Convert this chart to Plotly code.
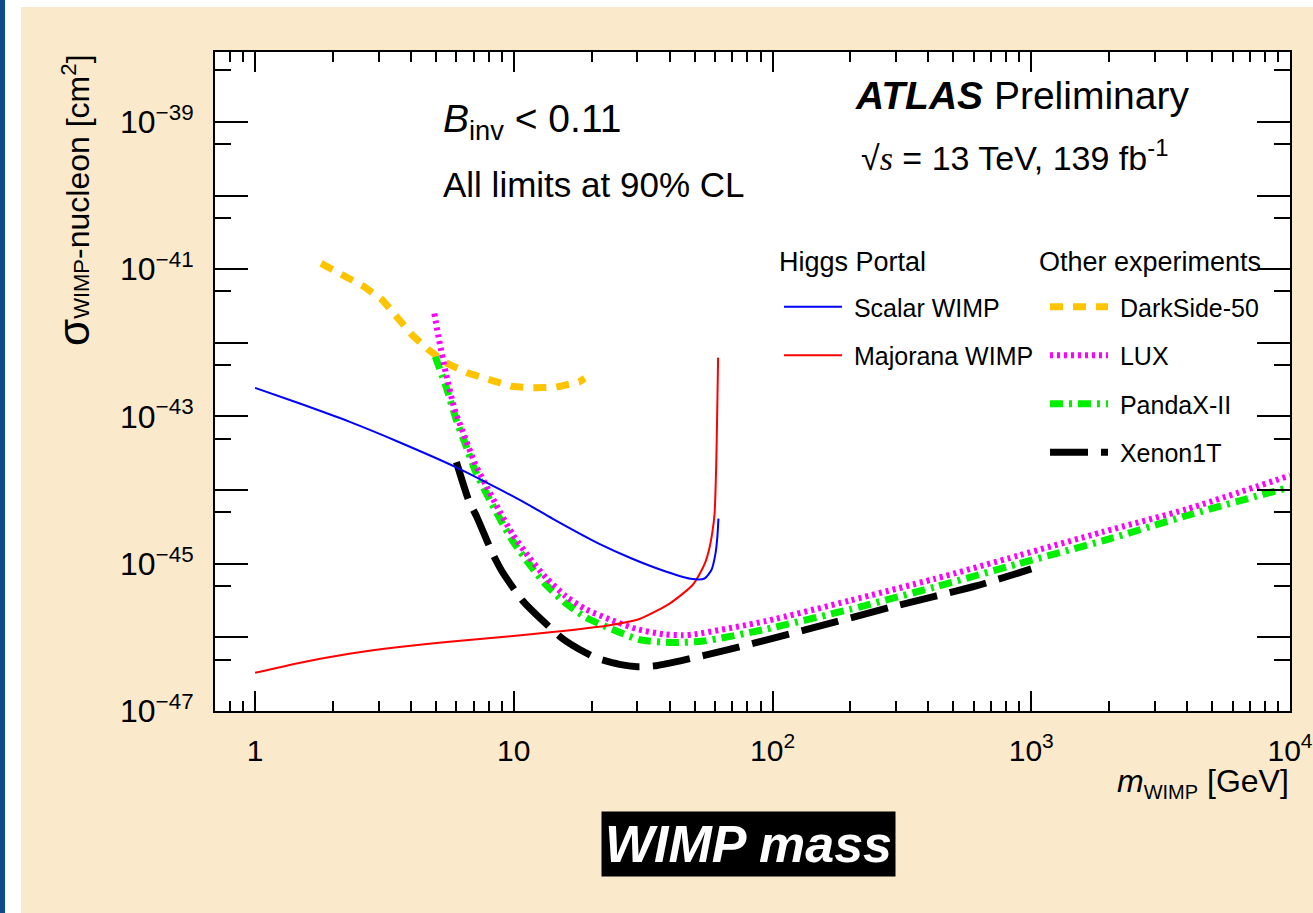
import math
import plotly.graph_objects as go

# ---------------- data ----------------
darkside_m = [1.80, 2.21, 2.64, 3.11, 3.55, 4.06, 4.71, 5.55, 6.63, 8.04, 9.75, 11.8, 14.6, 17.9, 18.8]
darkside_s = [1.20e-41, 7.9e-42, 5.8e-42, 3.8e-42, 2.24e-42, 1.26e-42, 7.9e-43, 5.2e-43, 3.9e-43,
              3.1e-43, 2.57e-43, 2.45e-43, 2.5e-43, 2.95e-43, 3.3e-43]

lux_m = [4.93, 5.15, 5.47, 5.9, 6.5, 7.1, 7.8, 8.8, 9.9, 11.5, 13.3, 15.9, 19, 24, 30, 38, 45, 50,
         94, 199, 421, 891, 1884, 3984, 10000]
lux_s = [2.5e-42, 1.07e-42, 3.8e-43, 1.26e-43, 5.0e-44, 2.24e-44, 1.17e-44, 5.2e-45, 2.5e-45, 1.2e-45,
         6.5e-46, 3.6e-46, 2.4e-46, 1.7e-46, 1.29e-46, 1.10e-46, 1.07e-46, 1.10e-46,
         1.66e-46, 3.16e-46, 6.2e-46, 1.29e-45, 2.7e-45, 5.5e-45, 1.58e-44]

pandax_m = [4.97, 5.5, 6.0, 6.5, 7.1, 7.8, 8.8, 9.9, 11.5, 13.3, 15.9, 19, 24, 30.6, 41, 54,
            94, 199, 421, 891, 1884, 3984, 10000]
pandax_s = [6.5e-43, 2.4e-43, 8.9e-44, 4.2e-44, 1.82e-44, 9.3e-45, 4.2e-45, 2.04e-45, 9.8e-46, 5.2e-46,
            2.9e-46, 1.86e-46, 1.29e-46, 9.3e-47, 8.5e-47, 8.9e-47,
            1.29e-46, 2.4e-46, 4.8e-46, 1.0e-45, 2.04e-45, 4.5e-45, 1.10e-44]

xenon_m = [6.0, 6.7, 7.2, 8.3, 9.0, 10.8, 12.2, 15.5, 17.9, 21, 25.6, 30, 35, 44, 65, 137, 290, 612, 1000]
xenon_s = [2.4e-44, 7.2e-45, 4.3e-45, 1.35e-45, 7.9e-46, 3.16e-46, 2.04e-46, 9.5e-47, 6.9e-47, 5.2e-47,
           4.3e-47, 4.0e-47, 4.1e-47, 4.8e-47, 6.6e-47, 1.29e-46, 2.6e-46, 5.0e-46, 8.5e-46]

scalar_m = [1.0, 1.48, 2.31, 3.61, 5.99, 8.79, 11.5, 14.1, 21.4, 28.7, 38.9, 49.0, 54.6, 58.1,
            60.2, 61.2, 61.8]
scalar_s = [2.45e-43, 1.51e-43, 8.5e-44, 4.47e-44, 2.04e-44, 1.03e-44, 6.2e-45, 4.1e-45, 1.86e-45,
            1.17e-45, 7.8e-46, 6.2e-46, 6.3e-46, 8.3e-46, 1.38e-45, 2.34e-45, 4.1e-45]

majorana_m = [1.0, 1.48, 2.31, 3.61, 5.63, 8.79, 14.1, 22.8, 30.6, 35.6, 40.0, 44.9, 49.0, 52.2,
              55.1, 57.1, 58.6, 59.7, 60.6, 61.1, 61.6]
majorana_s = [3.3e-47, 4.5e-47, 6.0e-47, 7.4e-47, 8.7e-47, 1.0e-46, 1.18e-46, 1.44e-46, 1.78e-46,
              2.29e-46, 2.88e-46, 3.9e-46, 5.1e-46, 7.2e-46, 1.07e-45, 1.66e-45, 2.75e-45, 4.8e-45,
              2.3e-44, 1.1e-43, 6.3e-43]

x_tickvals = [1, 10, 100, 1000, 10000]
x_ticktext = ["1", "10", "10<sup>2</sup>", "10<sup>3</sup>", "10<sup>4</sup>"]
y_decades = list(range(-47, -38))
y_ticktext = ["10<sup>\u2212%d</sup>" % (-d) if d % 2 else "" for d in y_decades]

# ---------------- layout geometry ----------------
W, H = 1313, 913
ML, MR, MT, MB = 215, 23, 52, 202
PW, PH = W - ML - MR, H - MT - MB


def px(x):
    return (x - ML) / PW


def py(y):
    return (H - MB - y) / PH


FONT = "Liberation Sans, Arial, Helvetica, sans-serif"
NB = "\u00a0"

fig = go.Figure()

styles = [
    ("DarkSide-50", darkside_m, darkside_s, "#FFC400", 7, "13px,10px", "legend2", 1, "linear"),
    ("PandaX-II", pandax_m, pandax_s, "#00F000", 7, "13px,6px,3px,6px", "legend2", 3, "spline"),
    ("LUX", lux_m, lux_s, "#FF00FF", 6, "3px,4px", "legend2", 2, "spline"),
    ("Xenon1T", xenon_m, xenon_s, "#000000", 7, "38px,13px", "legend2", 4, "spline"),
    ("Majorana WIMP", majorana_m, majorana_s, "#FF0000", 2, "solid", "legend", 2, "spline"),
    ("Scalar WIMP", scalar_m, scalar_s, "#0000FF", 2, "solid", "legend", 1, "spline"),
]
for name, xs, ys, col, w, dash, leg, rank, shape in styles:
    fig.add_trace(go.Scatter(
        x=xs, y=ys, mode="lines", name=NB + name,
        line=dict(color=col, width=w, dash=dash, shape=shape, smoothing=0.6),
        legend=leg, legendrank=rank, legendgroup=name,
    ))

minor_x = [v * 10 ** k for k in range(0, 4) for v in range(2, 10)] + [0.8, 0.9]
minor_y = [5 * 10.0 ** d for d in y_decades]

fig.update_xaxes(
    type="log", range=[math.log10(0.7), 4], automargin=False,
    tickvals=x_tickvals, ticktext=x_ticktext,
    ticks="inside", ticklen=20, tickwidth=2, tickcolor="black",
    showline=True, linewidth=2, linecolor="black", mirror="ticks",
    showgrid=False, zeroline=False,
    minor=dict(tickvals=minor_x, ticks="inside", ticklen=10, tickwidth=2, tickcolor="black", showgrid=False),
    tickfont=dict(family=FONT, size=30, color="black"),
    ticklabelstandoff=12,
)
fig.update_yaxes(
    type="log", range=[-47, -38.05], automargin=False,
    tickvals=[10.0 ** d for d in y_decades], ticktext=y_ticktext,
    ticks="inside", ticklen=33, tickwidth=2, tickcolor="black",
    showline=True, linewidth=2, linecolor="black", mirror="ticks",
    showgrid=False, zeroline=False,
    minor=dict(tickvals=minor_y, ticks="inside", ticklen=16, tickwidth=2, tickcolor="black", showgrid=False),
    tickfont=dict(family=FONT, size=32, color="black"),
    ticklabelstandoff=13,
)

BEIGE = "#FAEACB"
legend_common = dict(
    xanchor="left", yanchor="top", bgcolor="rgba(0,0,0,0)", borderwidth=0,
    font=dict(family=FONT, size=25), itemwidth=58, tracegroupgap=13,
)
fig.update_layout(
    width=W, height=H,
    margin=dict(l=ML, r=MR, t=MT, b=MB, pad=0, autoexpand=False),
    paper_bgcolor=BEIGE, plot_bgcolor="white",
    font=dict(family=FONT, color="black"),
    legend=dict(x=px(779), y=py(284), **legend_common),
    legend2=dict(x=px(1045), y=py(284), **legend_common),
    showlegend=True,
)

# frame decorations: white strips and blue bar at the left edge
fig.add_shape(type="rect", xref="paper", yref="paper", x0=px(0), x1=px(21), y0=py(H), y1=py(0),
              fillcolor="white", line_width=0, layer="above")
fig.add_shape(type="rect", xref="paper", yref="paper", x0=px(0), x1=px(W), y0=py(7), y1=py(0),
              fillcolor="white", line_width=0, layer="above")
fig.add_shape(type="rect", xref="paper", yref="paper", x0=px(0), x1=px(5), y0=py(H), y1=py(0),
              fillcolor="#0E4A8C", line_width=0, layer="above")

ann = [
    dict(text="<i>B</i><sub>inv</sub> &lt; 0.11", x=px(441), y=py(121), size=39, xanchor="left"),
    dict(text="All limits at 90% CL", x=px(441), y=py(184), size=35, xanchor="left"),
    dict(text="<b><i>ATLAS</i></b> Preliminary", x=px(853), y=py(95), size=39, xanchor="left"),
    dict(text="\u221a<span style='font-family:Liberation Serif'><i>s</i></span> = 13 TeV, 139 fb<sup>-1</sup>",
         x=px(859), y=py(155), size=34, xanchor="left"),
    dict(text="<i>m</i><sub><span style='font-size:20px'>WIMP</span></sub> [GeV]",
         x=px(1291), y=py(783), size=32, xanchor="right"),
    dict(text="Higgs Portal", x=px(777), y=py(262), size=27, xanchor="left"),
    dict(text="Other experiments", x=px(1037), y=py(262), size=27, xanchor="left"),
]
for a in ann:
    fig.add_annotation(text=a["text"], x=a["x"], y=a["y"], xref="paper", yref="paper",
                       xanchor=a["xanchor"], yanchor="middle", showarrow=False,
                       font=dict(family=FONT, size=a["size"], color="black"))

# y-axis title, top aligned
fig.add_annotation(
    text="<span style='font-size:44px'>\u03c3</span><span style='font-size:22px'>WIMP</span>-nucleon [cm<sup>2</sup>]",
    x=px(73), y=py(52), xref="paper", yref="paper", xanchor="center", yanchor="top",
    textangle=-90, showarrow=False, font=dict(family=FONT, size=32, color="black"))

# "WIMP mass" caption box
fig.add_annotation(
    text="<b><i>WIMP mass</i></b>", x=px(748), y=py(844), xref="paper", yref="paper",
    xanchor="center", yanchor="middle", showarrow=False, bgcolor="black", borderpad=3,
    font=dict(family=FONT, size=52, color="white"))

fig.write_html(
    "out.html",
    config={"displayModeBar": False},
    post_script=("document.documentElement.style.margin='0px';document.body.style.margin='0px';"
                 "document.body.style.padding='0px';document.documentElement.style.overflow='hidden';"
                 "document.body.style.overflow='hidden';"),
)
